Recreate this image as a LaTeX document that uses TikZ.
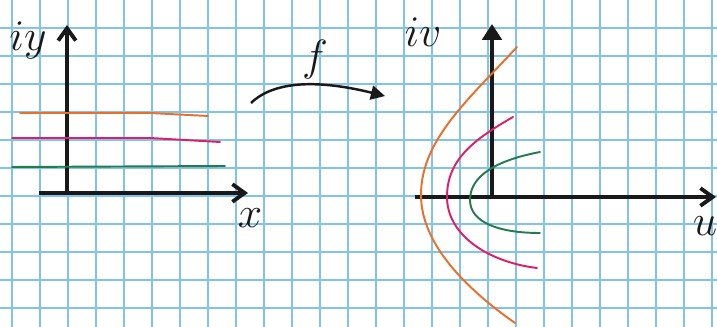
\documentclass[tikz,border=0pt]{standalone}
\usepackage{tikz}
\usetikzlibrary{arrows.meta,positioning}
\usepackage{xcolor}
\usepackage{amsmath}
\definecolor{gridblue}{RGB}{130,195,235}
\definecolor{penorange}{RGB}{232,112,40}
\definecolor{penpink}{RGB}{222,30,105}
\definecolor{pengreen}{RGB}{35,125,75}
\definecolor{penblack}{RGB}{25,25,25}

\begin{document}
\begin{tikzpicture}[x=0.02cm,y=-0.02cm,
  gridline/.style={draw=gridblue,line width=1pt},
  axis/.style={draw=penblack,line width=2.2pt,-{Straight Barb[length=7pt,width=10pt]}},
  axisfill/.style={draw=penblack,line width=2.2pt,-{Triangle[length=9pt,width=11pt]}},
  maparr/.style={draw=penblack,line width=1.4pt,-{Triangle[length=8pt,width=8pt]}},
  pen/.style={line width=1.1pt,line cap=round},
  lbl/.style={font=\Huge,text=penblack}
]
\useasboundingbox (0,0) rectangle (717,327);
\fill[white] (0,0) rectangle (717,327);

% squared paper
\foreach \gx in {12,40,...,712}
  \draw[gridline] (\gx,0) -- (\gx,327);
\foreach \gy in {28,56,...,320}
  \draw[gridline] (0,\gy) -- (717,\gy);

% z-plane
\coordinate (zo)   at (67,193);
\coordinate (zx0)  at (39,193);
\coordinate (zxt)  at (248,193);
\coordinate (zyt)  at (67,25);
\draw[axis] (zo) -- (zyt);
\draw[axis] (zx0) -- (zxt);
\node[lbl] (liy) at (28,40) {$iy$};
\node[lbl] (lx)  at (250,218) {$x$};

\draw[pen,penorange] (20,113) -- (150,113) -- (208,116);
\draw[pen,penpink]   (12,138) -- (150,138) -- (220,142);
\draw[pen,pengreen]  (12,167) -- (225,166);

% the map
\coordinate (fs) at (251,103);
\coordinate (fe) at (385,96);
\draw[maparr] (fs) .. controls (275,80) and (320,80) .. (fe);
\node[lbl] (lf) at (315,60) {$f$};

% w-plane
\coordinate (wo)  at (492,197);
\coordinate (wx0) at (415,197);
\coordinate (wxt) at (716,197);
\coordinate (wyt) at (492,24);
\draw[axisfill] (wo) -- (wyt);
\draw[axis] (wx0) -- (wxt);
\node[lbl] (liv) at (423,32) {$iv$};
\node[lbl] (lu)  at (705,226) {$u$};

% images of the horizontal lines
\draw[pen,penorange] (517,47) .. controls (468,100) and (421,140) .. (421,195)
  .. controls (421,245) and (468,290) .. (515,323);
\draw[pen,penpink] (513,117) .. controls (473,140) and (447,160) .. (447,197)
  .. controls (447,235) and (488,262) .. (537,268);
\draw[pen,pengreen] (540,152) .. controls (498,160) and (470,175) .. (470,200)
  .. controls (470,222) and (498,233) .. (540,233);
\end{tikzpicture}
\end{document}
